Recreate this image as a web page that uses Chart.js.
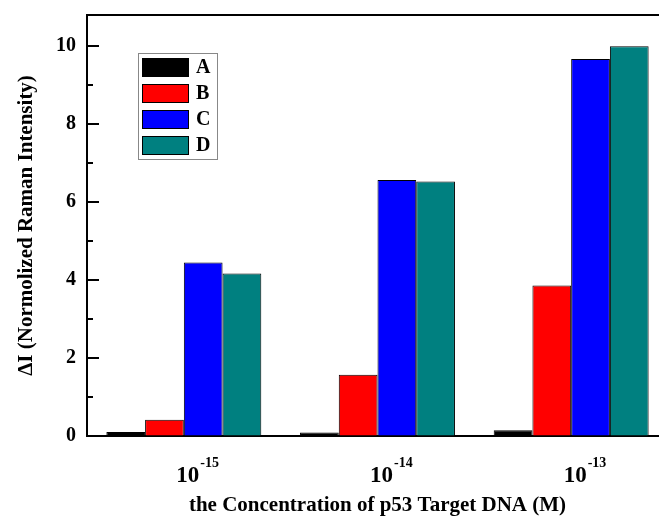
<!DOCTYPE html>
<html>
<head>
<meta charset="utf-8">
<script src="https://cdn.jsdelivr.net/npm/chart.js@4.4.1/dist/chart.umd.min.js"></script>
<style>
  html, body { margin: 0; padding: 0; background: #fff; }
  #wrap { width: 659px; height: 520px; overflow: hidden; }
</style>
</head>
<body>
<div id="wrap">
  <canvas id="ramanChart" width="680" height="520"></canvas>
</div>
<script>
// concentrations (exponent of 10, M)
var concExp = ['-15', '-14', '-13'];
var seriesNames = ['A', 'B', 'C', 'D'];
var seriesColors = ['#000000', '#ff0000', '#0000ff', '#008080'];

var valuesA = [0.10, 0.09, 0.15];
var valuesB = [0.42, 1.57, 3.86];
var valuesC = [4.45, 6.57, 9.67];
var valuesD = [4.17, 6.53, 10.0];

var yMin = 0, yMax = 10.8, yStep = 2;
var FONT = '"Liberation Serif", "Times New Roman", serif';

var allValues = [valuesA, valuesB, valuesC, valuesD];
var datasets = seriesNames.map(function (name, i) {
    return {
        label: name,
        data: allValues[i],
        backgroundColor: seriesColors[i],
        borderColor: '#000',
        borderWidth: 1
    };
});

// frame, inward ticks, superscript category labels and boxed legend
var decorPlugin = {
    id: 'decor',
    afterDraw: function (chart) {
        var ctx = chart.ctx;
        var area = chart.chartArea;
        var x = chart.scales.x, y = chart.scales.y;
        ctx.save();
        ctx.strokeStyle = '#000';
        ctx.lineWidth = 2;
        ctx.beginPath();
        ctx.moveTo(area.left, area.top);
        ctx.lineTo(area.right, area.top);
        ctx.lineTo(area.right, area.bottom);
        ctx.stroke();

        // y ticks pointing inside
        for (var v = yMin; v <= 10; v += 1) {
            var py = Math.round(y.getPixelForValue(v));
            var len = (v % 2 === 0) ? 12 : 6;
            ctx.beginPath();
            ctx.moveTo(area.left, py);
            ctx.lineTo(area.left + len, py);
            ctx.stroke();
        }

        // x labels 10^exp
        ctx.fillStyle = '#000';
        ctx.textBaseline = 'alphabetic';
        concExp.forEach(function (e, i) {
            var cx = x.getPixelForValue(i) + 4;
            ctx.font = 'bold 23px ' + FONT;
            var w = ctx.measureText('10').width;
            ctx.textAlign = 'left';
            ctx.fillText('10', cx - w / 2, 482);
            ctx.font = 'bold 14px ' + FONT;
            ctx.fillText(e, cx + w / 2 + 1, 467);
        });

        // legend
        var lx = area.left + 51, ly = area.top + 38;
        ctx.strokeStyle = '#888';
        ctx.lineWidth = 1;
        ctx.strokeRect(lx + 0.5, ly + 0.5, 79, 106);
        ctx.font = 'bold 20px ' + FONT;
        ctx.textBaseline = 'middle';
        chart.data.datasets.forEach(function (ds, i) {
            var sy = ly + 5 + i * 26;
            ctx.fillStyle = ds.backgroundColor;
            ctx.fillRect(lx + 4, sy, 47, 19);
            ctx.strokeStyle = '#000';
            ctx.strokeRect(lx + 4.5, sy + 0.5, 46, 18);
            ctx.fillStyle = '#000';
            ctx.fillText(ds.label, lx + 58, sy + 10);
        });
        ctx.restore();
    }
};

var ctx = document.getElementById('ramanChart').getContext('2d');
var ramanChart = new Chart(ctx, {
    type: 'bar',
    data: {
        labels: concExp.map(function (e) { return '10^' + e; }),
        datasets: datasets
    },
    options: {
        responsive: false,
        animation: false,
        layout: { padding: { top: 15, right: 12, left: 0, bottom: 0 } },
        datasets: { bar: { categoryPercentage: 0.8, barPercentage: 1.0 } },
        plugins: {
            legend: { display: false },
            tooltip: { enabled: false }
        },
        scales: {
            x: {
                grid: { display: false },
                border: { display: true, color: '#000', width: 2 },
                ticks: { callback: function () { return ''; } },
                title: {
                    display: true,
                    text: 'the Concentration of p53 Target DNA (M)',
                    color: '#000',
                    font: { family: FONT, size: 21, weight: 'bold' },
                    padding: { top: 0, bottom: 2 }
                },
                afterFit: function (scale) {
                    scale.height = 84;
                    scale.paddingLeft = 0;
                    scale.paddingRight = 0;
                }
            },
            y: {
                min: yMin,
                max: yMax,
                grid: { drawOnChartArea: false, drawTicks: false },
                border: { display: true, color: '#000', width: 2 },
                ticks: {
                    stepSize: yStep,
                    includeBounds: false,
                    padding: 11,
                    color: '#000',
                    font: { family: FONT, size: 20, weight: 'bold' }
                },
                title: {
                    display: true,
                    text: 'ΔI (Normolized Raman Intensity)',
                    color: '#000',
                    font: { family: FONT, size: 21, weight: 'bold' },
                    padding: { top: 14, bottom: 0 }
                },
                afterFit: function (scale) {
                    scale.width = 87;
                    scale.paddingTop = 0;
                    scale.paddingBottom = 0;
                }
            }
        }
    },
    plugins: [decorPlugin]
});
</script>
</body>
</html>
